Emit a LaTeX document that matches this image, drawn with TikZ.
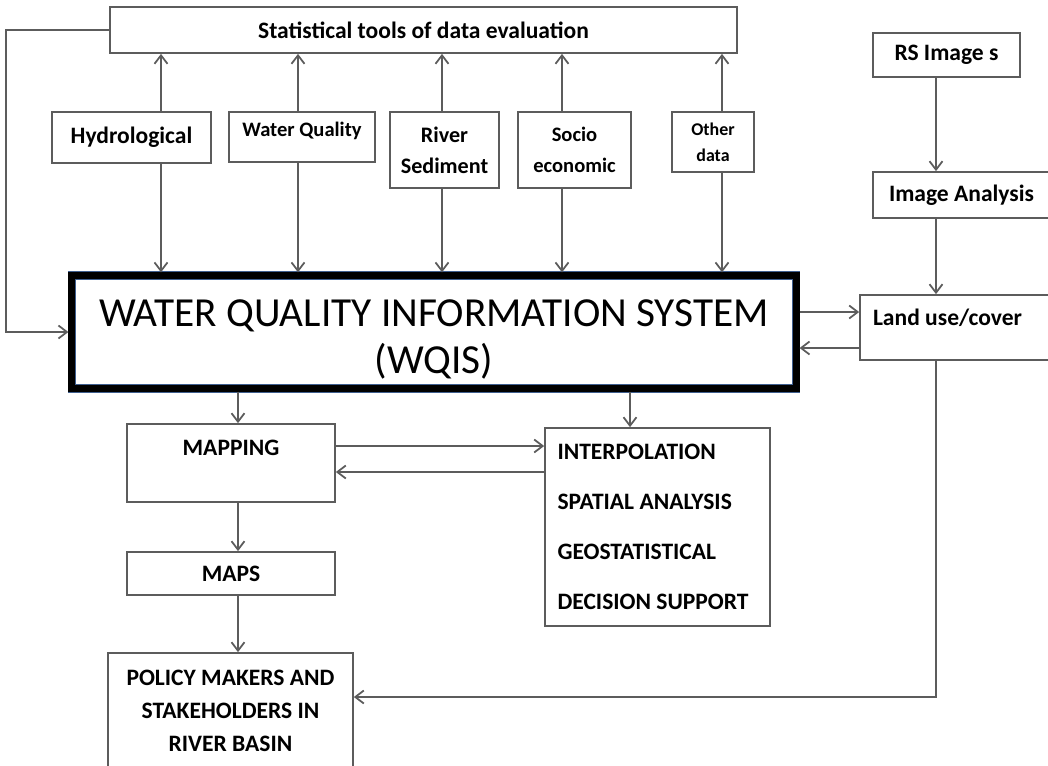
\documentclass[tikz,border=0pt]{standalone}
\usepackage{fontspec}
\setmainfont{Carlito}
\usetikzlibrary{arrows.meta}
\definecolor{linegray}{HTML}{5C5C5C}
\definecolor{wqisblue}{HTML}{3F5F8F}

\tikzset{
  box/.style={draw=linegray, line width=1pt, inner sep=2pt, align=center,
    font=\bfseries\fontsize{13.4}{16}\selectfont},
  link/.style={linegray, line width=1pt, ->, >={Straight Barb[length=1.7mm,width=2.6mm]}},
}

\begin{document}
\begin{tikzpicture}[x=0.02cm,y=-0.02cm]
\clip (0,0) rectangle (1048,765);
\fill [white] (0,0) rectangle (1048,765);

% data sources and evaluation
\node [box, minimum width=12.54cm, minimum height=0.92cm] (stat) at (423.5,30) {Statistical tools of data evaluation};
\node [box, minimum width=3.18cm, minimum height=1.02cm] (hydro) at (131.5,137.5) {Hydrological};
\node [box, minimum width=2.92cm, text height=0.38cm, text depth=0.42cm, inner ysep=0.1cm, font=\bfseries\fontsize{11.7}{14}\selectfont] (wq) at (302,137) {Water Quality};
\node [box, minimum width=2.18cm, minimum height=1.52cm, font=\bfseries\fontsize{12.6}{17.5}\selectfont] (river) at (444.5,150) {River\\Sediment};
\node [box, minimum width=2.26cm, minimum height=1.52cm, font=\bfseries\fontsize{11.7}{17.5}\selectfont] (socio) at (574.5,150) {Socio\\economic};
\node [box, minimum width=1.64cm, minimum height=1.2cm, font=\bfseries\fontsize{10.2}{15}\selectfont] (other) at (713,142) {Other\\data};

% main system
\node [draw=black, line width=3.6pt, minimum width=14.5cm, minimum height=2.26cm, align=center,
  preaction={draw=wqisblue, line width=4.6pt},
  font=\fontsize{23.5}{26.5}\selectfont] (wqis) at (434,332) {\rule{0pt}{0.84cm}WATER QUALITY INFORMATION SYSTEM\\(WQIS)};

% remote sensing
\node [box, minimum width=2.94cm, minimum height=0.88cm] (rs) at (946.5,55) {RS Image s};
\node [box, minimum width=3.54cm, minimum height=0.92cm] (imgan) at (961.5,195) {Image Analysis};
\node [box, minimum width=3.8cm, text width=3.28cm, inner xsep=0.26cm, inner ysep=0.15cm,
  text height=0.45cm, text depth=0.55cm, align=flush left] (land) at (955,327.5) {Land use/cover};

% outputs
\node [box, minimum width=4.16cm, text height=0.47cm, text depth=0.79cm, inner ysep=0.15cm] (mapping) at (231,463) {MAPPING};
\node [box, minimum width=4.5cm, minimum height=3.96cm, text width=4.0cm, inner xsep=0.25cm, align=flush left,
  font=\bfseries\fontsize{13.4}{28.45}\selectfont] (interp) at (657.5,527)
  {INTERPOLATION\\SPATIAL ANALYSIS\\GEOSTATISTICAL\\DECISION SUPPORT};
\node [box, minimum width=4.16cm, minimum height=0.86cm] (maps) at (231,573.5) {MAPS};
\node [box, minimum width=4.9cm, minimum height=2.32cm, font=\bfseries\fontsize{13.4}{18.8}\selectfont] (policy) at (230.5,711)
  {POLICY MAKERS AND\\STAKEHOLDERS IN\\RIVER BASIN};

\coordinate (fbk) at (6,180);

% connectors
\foreach \b/\x in {hydro/161,wq/298,river/442,socio/562,other/722}{
  \draw [link] (\b.north -| \x,0) -- (stat.south -| \x,0);
  \draw [link] (\b.south -| \x,0) -- (wqis.north -| \x,0);
}
\draw [link] (stat.west) -| (fbk) |- (wqis.west);

\draw [link] (wqis.east |- 0,312) -- (land.west |- 0,312);
\draw [link] (land.west |- 0,348) -- (wqis.east |- 0,348);
\draw [link] (rs.south -| 936,0) -- (imgan.north -| 936,0);
\draw [link] (imgan.south -| 936,0) -- (land.north -| 936,0);
\draw [link] (land.south -| 936,0) |- (policy.east |- 0,697);

\draw [link] (wqis.south -| 238,0) -- (mapping.north -| 238,0);
\draw [link] (wqis.south -| 630,0) -- (interp.north -| 630,0);
\draw [link] (mapping.east |- 0,446) -- (interp.west |- 0,446);
\draw [link] (interp.west |- 0,472) -- (mapping.east |- 0,472);
\draw [link] (mapping.south -| 238,0) -- (maps.north -| 238,0);
\draw [link] (maps.south -| 238,0) -- (policy.north -| 238,0);

\end{tikzpicture}
\end{document}
